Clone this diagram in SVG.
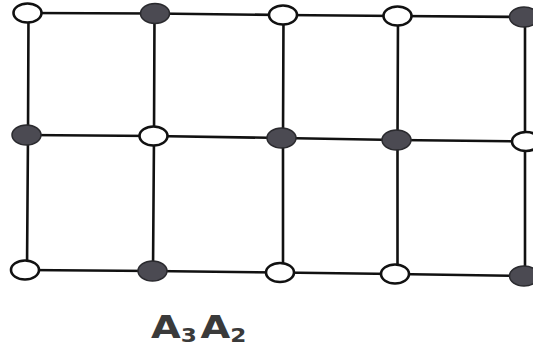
<svg xmlns="http://www.w3.org/2000/svg" width="533" height="350" viewBox="0 0 533 350">
<style>
.e{stroke:#111;stroke-width:2.6;fill:none}
.w{fill:#fff;stroke:#111;stroke-width:2.6}
.d{fill:#4b4a52;stroke:#2a2a2e;stroke-width:1.5}
.t{font-family:"DejaVu Sans",sans-serif;font-weight:bold;fill:#3a3a3a}
</style>
<rect width="533" height="350" fill="#fff"/>
<g id="connectors">
<polyline class="e" points="27.5,13 155,13.5 283,15 397.5,16 523,17 540,17"/>
<polyline class="e" points="26.5,135 153.5,136 281.5,138 396.5,140 525,141.5 540,141.5"/>
<polyline class="e" points="25,270 152.5,271 280,272.5 395,274 523,276 540,276"/>
<polyline class="e" points="28.5,13 28,135 27,270"/>
<polyline class="e" points="154.5,13.5 154,136 153,271"/>
<polyline class="e" points="283.5,15 283,138 283,272.5"/>
<polyline class="e" points="398,16 397.5,140 397.5,274"/>
<polyline class="e" points="525,17 525,141.5 525,276"/>
</g>
<g id="n00"><ellipse class="w" cx="27.5" cy="13" rx="14" ry="9.5"/></g>
<g id="n10"><ellipse class="d" cx="155" cy="13.5" rx="14.5" ry="10"/></g>
<g id="n20"><ellipse class="w" cx="283" cy="15" rx="14" ry="9.5"/></g>
<g id="n30"><ellipse class="w" cx="397.5" cy="16" rx="14" ry="9.5"/></g>
<g id="n40"><ellipse class="d" cx="524" cy="17" rx="14.5" ry="10"/></g>
<g id="n01"><ellipse class="d" cx="26.5" cy="135" rx="14.5" ry="10"/></g>
<g id="n11"><ellipse class="w" cx="153.5" cy="136" rx="14" ry="9.5"/></g>
<g id="n21"><ellipse class="d" cx="281.5" cy="138" rx="14.5" ry="10"/></g>
<g id="n31"><ellipse class="d" cx="396.5" cy="140" rx="14.5" ry="10"/></g>
<g id="n41"><ellipse class="w" cx="526" cy="141.5" rx="14" ry="9.5"/></g>
<g id="n02"><ellipse class="w" cx="25" cy="270" rx="14" ry="9.5"/></g>
<g id="n12"><ellipse class="d" cx="152.5" cy="271" rx="14.5" ry="10"/></g>
<g id="n22"><ellipse class="w" cx="280" cy="272.5" rx="14" ry="9.5"/></g>
<g id="n32"><ellipse class="w" cx="395" cy="274" rx="14" ry="9.5"/></g>
<g id="n42"><ellipse class="d" cx="524" cy="276" rx="14.5" ry="10"/></g>
<g id="label">
<text class="t" transform="translate(151,338) scale(1.22,1)" font-size="31.5">A<tspan font-size="19" dy="3.5">3</tspan><tspan dx="3" dy="-3.5">A</tspan><tspan font-size="19" dy="3.5">2</tspan></text>
</g>
</svg>
